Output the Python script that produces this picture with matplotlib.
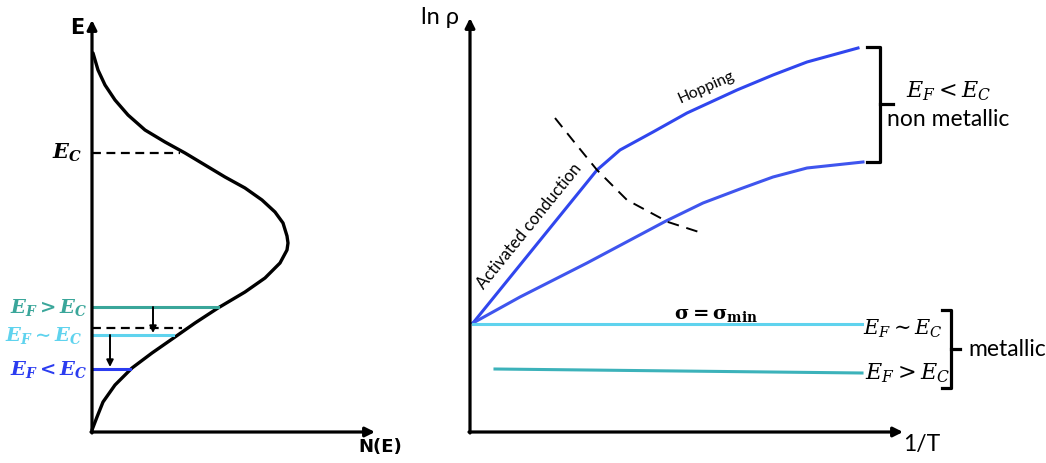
import matplotlib.pyplot as plt

plt.rcParams['mathtext.fontset'] = 'custom'
plt.rcParams['mathtext.rm'] = 'DejaVu Serif'
plt.rcParams['mathtext.it'] = 'DejaVu Serif:italic'
plt.rcParams['mathtext.bf'] = 'DejaVu Serif:italic:bold'
sans = ['Lato', 'DejaVu Sans']
sans_bold = ['DejaVu Sans']

# ---- left panel: density of states N(E) ----
dos_n = [1, 6, 13, 23, 36, 53, 73, 93, 113, 133, 153, 170, 183, 191, 195, 196,
         195, 188, 173, 153, 126, 103, 83, 60, 40, 23, 11, 5, 0]
dos_e = [379, 362, 347, 332, 317, 302, 290, 279, 267, 255, 244, 232, 220, 209, 196, 189,
         182, 169, 154, 140, 124, 109, 95, 79, 64, 47, 30, 15, 2]

ec_level = 279
ec_end = 88
mid_level = 104       # dashed level between the two Fermi levels
mid_end = 90
level_e = [125, 97, 63]          # E_F > E_C, E_F ~ E_C, E_F < E_C
level_end = [126, 81, 38]
level_text = [r'$\mathbf{E_F > E_C}$', r'$\mathbf{E_F{\sim}E_C}$', r'$\mathbf{E_F < E_C}$']
level_col = ['#3aa69a', '#5fd3ee', '#2b3cf0']
shift_x = [61, 18]
shift_from = [125, 97]
shift_to = [99, 65]

# ---- right panel: ln rho vs 1/T ----
up_x = [3, 127, 150, 183, 217, 267, 303, 337, 388]
up_y = [109, 262, 282, 300, 319, 342, 357, 370, 384]
lo_x = [3, 50, 117, 196, 233, 270, 303, 337, 393]
lo_y = [109, 135, 169, 211, 229, 243, 255, 264, 270]
cross_x = [85, 105, 127, 157, 198, 232]
cross_y = [314, 289, 262, 232, 210, 199]
min_x = [3, 392]
min_y = [108, 108]
met_x = [25, 392]
met_y = [63, 59]

fig = plt.figure(figsize=(10.46, 4.63), dpi=100)
ax1 = fig.add_axes([0, 0, 1, 1])
ax1.set_xlim(-92, 954)
ax1.set_ylim(-31, 432)
ax2 = fig.add_axes([0, 0, 1, 1])
ax2.set_xlim(-470, 576)
ax2.set_ylim(-31, 432)
for a in (ax1, ax2):
    a.axis('off')
    a.patch.set_visible(False)

arr = dict(arrowstyle='-|>', lw=2.3, color='k', mutation_scale=14, shrinkA=0, shrinkB=0)

# left axes
ax1.annotate('', xy=(0, 412), xytext=(0, -1), arrowprops=arr)
ax1.annotate('', xy=(283, 0), xytext=(-1, 0), arrowprops=arr)
ax1.text(-15, 404, 'E', family=sans_bold, weight='bold', fontsize=15, ha='center', va='center')
ax1.text(288, -15, 'N(E)', family=sans_bold, weight='bold', fontsize=13, ha='center', va='center')

ax1.plot(dos_n, dos_e, color='k', lw=2.4, solid_capstyle='round', solid_joinstyle='round')
ax1.plot([0, ec_end], [ec_level, ec_level], color='k', lw=1.6, ls=(0, (4, 2.5)))
ax1.text(-10, ec_level, r'$\mathbf{E_C}$', fontsize=15, ha='right', va='center')
ax1.plot([0, mid_end], [mid_level, mid_level], color='k', lw=1.6, ls=(0, (4, 2.5)))
for e, end, t, c, xr in zip(level_e, level_end, level_text, level_col, [-5, -10, -5]):
    ax1.plot([0, end], [e, e], color=c, lw=2.2)
    ax1.text(xr, e, t, fontsize=14, color=c, ha='right', va='center')
for x, a, b in zip(shift_x, shift_from, shift_to):
    ax1.annotate('', xy=(x, b), xytext=(x, a),
                 arrowprops=dict(arrowstyle='-|>', lw=1.4, color='k', mutation_scale=10,
                                 shrinkA=0, shrinkB=0))

# right axes
ax2.annotate('', xy=(0, 414), xytext=(0, -1), arrowprops=arr)
ax2.annotate('', xy=(433, 0), xytext=(-1, 0), arrowprops=arr)
ax2.text(-30, 414, 'ln ρ', family=sans, fontsize=17, ha='center', va='center')
ax2.text(452, -13, '1/T', family=sans, fontsize=16.5, ha='center', va='center')

ax2.plot(up_x, up_y, color='#3046ee', lw=2.2, solid_joinstyle='round')
ax2.plot(lo_x, lo_y, color='#3f55ee', lw=2.2, solid_joinstyle='round')
ax2.plot(cross_x, cross_y, color='k', lw=1.4, ls=(0, (6, 4)))
ax2.plot(min_x, min_y, color='#5fd3ee', lw=2.2)
ax2.plot(met_x, met_y, color='#3cb2ba', lw=2.2)

ax2.text(236, 345, 'Hopping', family=sans, fontsize=11.5, rotation=24, ha='center', va='center')
ax2.text(59, 206, 'Activated conduction', family=sans, fontsize=12, rotation=51,
         ha='center', va='center')
ax2.text(246, 118, r'$\mathbf{\sigma = \sigma_{min}}$', math_fontfamily='dejavuserif',
         fontsize=14, ha='center', va='center')

ax2.text(478, 341, r'$E_F < E_C$', fontsize=16, ha='center', va='center')
ax2.text(478, 312, 'non metallic', family=sans, fontsize=16.5, ha='center', va='center')
ax2.text(433, 103, r'$E_F{\sim}E_C$', fontsize=15, ha='center', va='center')
ax2.text(437, 59, r'$E_F > E_C$', fontsize=16, ha='center', va='center')
ax2.text(498, 83, 'metallic', family=sans, fontsize=16.5, ha='left', va='center')

# brackets
ax2.plot([397, 410, 410, 397], [385, 385, 270, 270], color='k', lw=2.3)
ax2.plot([410, 423], [328, 328], color='k', lw=2.3)
ax2.plot([472, 481, 481, 472], [122, 122, 44, 44], color='k', lw=2.3)
ax2.plot([481, 490], [83, 83], color='k', lw=2.3)

fig.savefig('out.png', dpi=100)
